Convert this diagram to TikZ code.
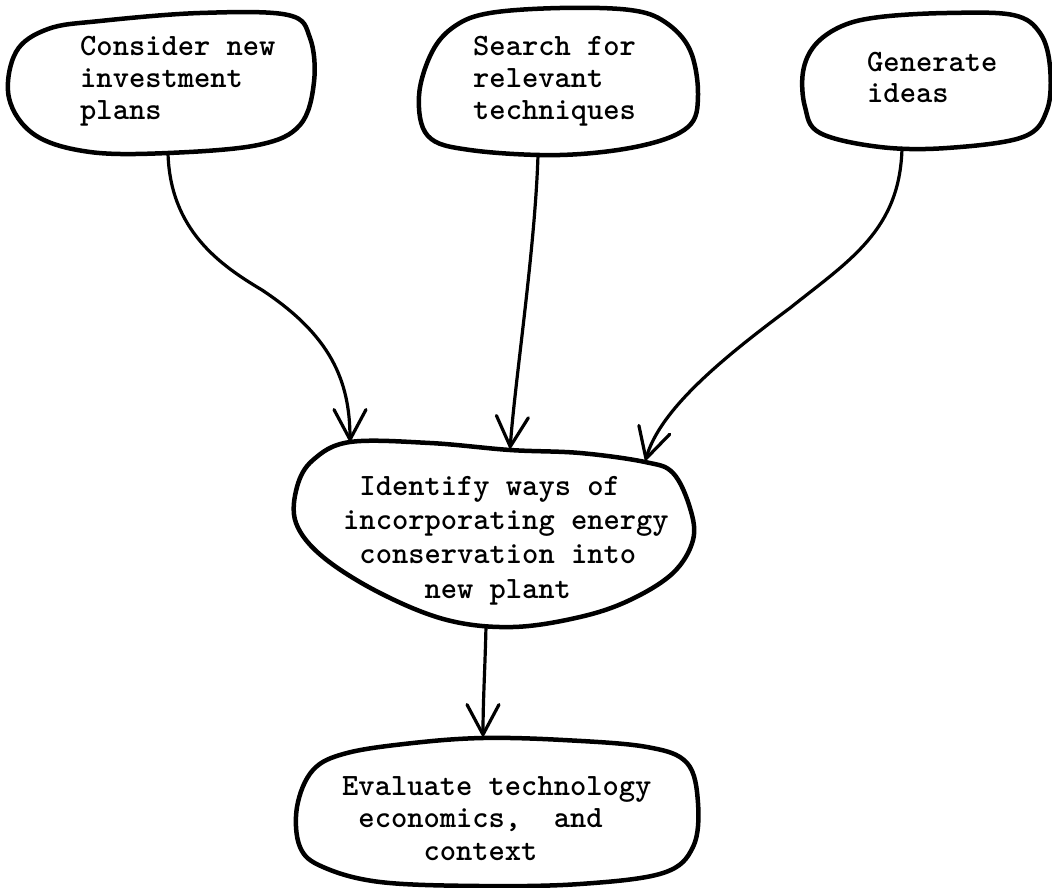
\documentclass[tikz,border=0pt]{standalone}
\usepackage{fontspec}
\usetikzlibrary{arrows.meta}
\tikzset{
  blob/.style={line width=4.5pt, line join=round},
  conn/.style={line width=3.2pt, line cap=round,
    -{Straight Barb[length=30pt,width=32pt,line cap=round]}},
  lbl/.style={inner sep=0pt, anchor=base west, align=left,
    font=\ttfamily\bfseries\fontsize{31}{32}\selectfont},
}
\begin{document}
\begin{tikzpicture}[x=1pt,y=-1pt]
\useasboundingbox (0,0) rectangle (1052,888);

% --- blobs ---
\draw[blob] plot[smooth cycle, tension=0.6] coordinates {
  (16,52) (48,29) (100,21) (200,13) (288,15) (310,38) (314,82) (300,125)
  (258,145) (168,153) (90,152) (35,135) (9,98)};
\draw[blob] plot[smooth cycle, tension=0.6] coordinates {
  (432,52) (455,26) (490,13) (560,8) (630,10) (665,22) (690,50) (698,95)
  (688,127) (640,146) (560,155) (470,150) (428,136) (419,96)};
\draw[blob] plot[smooth cycle, tension=0.6] coordinates {
  (815,45) (842,26) (880,17) (947,13) (1013,15) (1040,33) (1050,67)
  (1047,110) (1023,137) (947,148) (880,147) (820,133) (805,107) (803,72)};
\draw[blob] plot[smooth cycle, tension=0.6] coordinates {
  (313,460) (350,442) (430,443) (510,450) (580,453) (645,462) (673,473)
  (690,508) (693,540) (673,573) (630,600) (580,617) (513,627) (447,620)
  (380,593) (323,557) (296,523) (297,487)};
\draw[blob] plot[smooth cycle, tension=0.6] coordinates {
  (347,753) (413,743) (483,738) (563,740) (647,747) (687,763) (698,803)
  (693,847) (663,873) (580,884) (480,886) (380,882) (323,867) (300,847)
  (297,807) (313,770)};

% --- anchor points on the blob outlines ---
\coordinate (b1out) at (168,153);
\coordinate (b2out) at (538,155);
\coordinate (b3out) at (902,148);
\coordinate (c1in)  at (350,443);
\coordinate (c2in)  at (510,450);
\coordinate (c3in)  at (645,462);
\coordinate (c4out) at (486,626);
\coordinate (d4in)  at (483,738);

% --- texts (anchor = baseline of last line) ---
\node[lbl] (t1) at (80,120)  {Consider new\\investment\\plans};
\node[lbl] (t2) at (473,120) {Search for\\relevant\\techniques};
\node[lbl] (t3) at (867,103) {Generate\\ideas};
\node[lbl, font=\ttfamily\bfseries\fontsize{31}{34.3}\selectfont] (t4) at (343,598)
  {~Identify ways of\\incorporating energy\\~conservation into\\~~~~~new plant};
\node[lbl, font=\ttfamily\bfseries\fontsize{31}{32.5}\selectfont] (t5) at (342,860)
  {Evaluate technology\\~economics,~~and\\~~~~~context};

% --- connectors ---
\draw[conn] (b1out) .. controls (170,230) and (220,265) .. (262,290)
  .. controls (330,335) and (350,380) .. (c1in);
\draw[conn] (b2out) .. controls (535,250) and (515,380) .. (c2in);
\draw[conn] (b3out) .. controls (900,230) and (850,260) .. (790,308)
  .. controls (720,360) and (660,410) .. (c3in);
\draw[conn] (c4out) .. controls (485,670) and (483,700) .. (d4in);
\end{tikzpicture}
\end{document}
